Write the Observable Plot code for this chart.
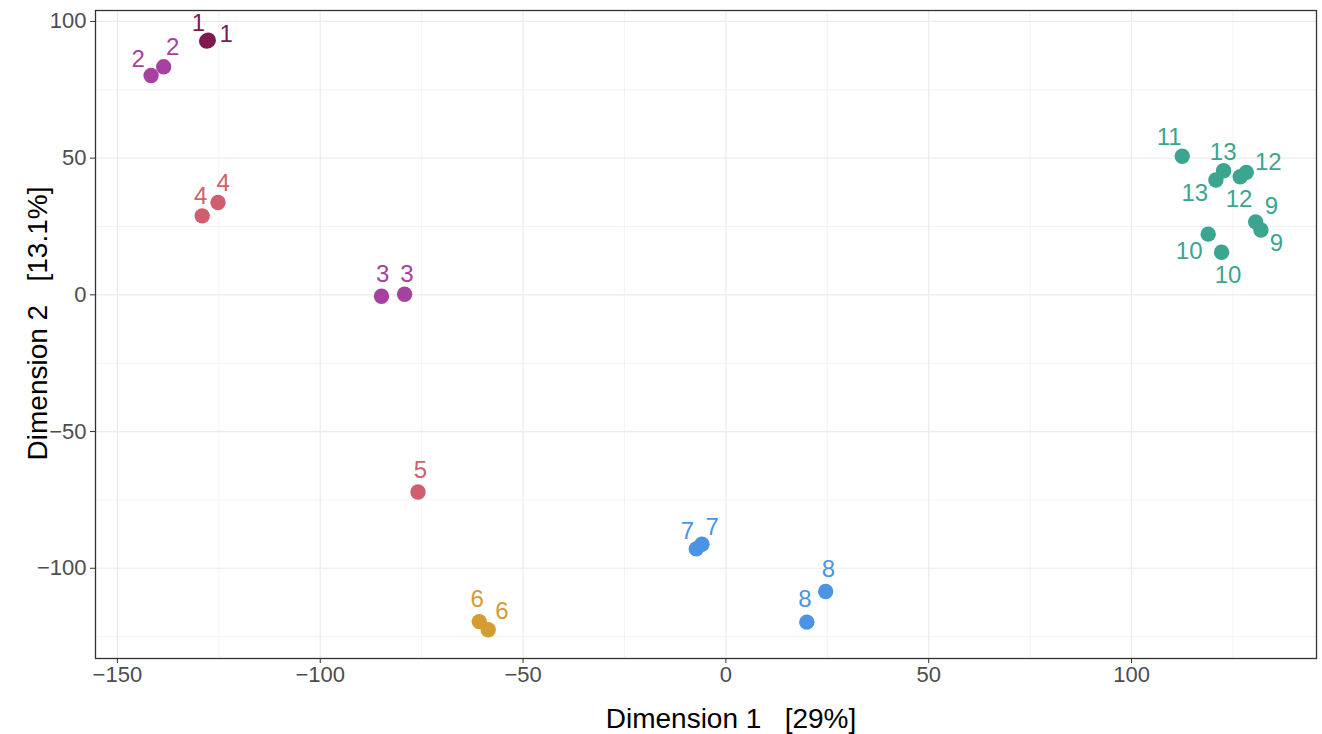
<!DOCTYPE html>
<html>
<head>
<meta charset="utf-8">
<script src="https://cdn.jsdelivr.net/npm/d3@7"></script>
<script src="https://cdn.jsdelivr.net/npm/@observablehq/plot@0.6"></script>
<style>
  html, body { margin: 0; padding: 0; background: #fff; }
  #chart svg { display: block; }
</style>
</head>
<body>
<div id="chart"></div>
<script>
// Sample group of each point
const groups = ["1","1","2","2","3","3","4","4","5","6","6","7","7","8","8","9","9","10","10","11","12","12","13","13"];
// Dimension 1 and Dimension 2 coordinates
const dim1 = [-128.0,-127.6,-141.7,-138.6,-84.9,-79.2,-129.1,-125.2,-75.9,-60.8,-58.6,-7.3,-5.9,19.95,24.6,130.6,131.9,118.9,122.2,112.5,128.3,126.8,122.7,120.8];
const dim2 = [92.8,93.1,80.2,83.4,-0.5,0.2,28.9,33.8,-72.1,-119.5,-122.5,-92.9,-91.2,-119.7,-108.5,26.7,23.7,22.2,15.6,50.7,44.8,43.2,45.4,42.0];
// Repelled label positions (data units)
const labelX = [-130.0,-123.2,-144.9,-136.4,-84.6,-78.6,-129.5,-123.9,-75.3,-61.3,-55.2,-9.5,-3.4,19.5,25.3,134.5,135.7,114.2,123.8,109.3,133.7,126.5,122.6,115.6];
const labelY = [99.3,95.2,86.1,90.5,7.6,7.6,35.9,40.8,-64.0,-111.5,-115.8,-86.6,-85.1,-111.3,-100.2,32.5,18.8,15.8,7.2,57.8,48.6,34.9,52.1,37.3];

// Colour of each group
const groupNames  = ["1","2","3","4","5","6","7","8","9","10","11","12","13"];
const groupColors = ["#7e1a4f","#a6419f","#a6419f","#cf5f6e","#cf5f6e","#d49d33","#4b93e5","#4b93e5","#3ba58f","#3ba58f","#3ba58f","#3ba58f","#3ba58f"];

// Axis ticks
const xTicks = [-150,-100,-50,0,50,100];
const yTicks = [-100,-50,0,50,100];
const xMinor = [-125,-75,-25,25,75,125];
const yMinor = [-125,-75,-25,25,75];

const xTitle = "Dimension 1\u00a0\u00a0\u00a0[29%]";
const yTitle = "Dimension 2\u00a0\u00a0\u00a0[13.1%]";

const pts = groups.map((g, i) => ({g, x: dim1[i], y: dim2[i], lx: labelX[i], ly: labelY[i]}));

const font = "Liberation Sans, Arial, Helvetica, sans-serif";
const fmt = d => d < 0 ? "\u2212" + Math.abs(d) : String(d);

const chart = Plot.plot({
  width: 1322,
  height: 734,
  marginLeft: 95,
  marginRight: 6,
  marginTop: 10,
  marginBottom: 76,
  style: {fontFamily: font, background: "#fff"},
  x: {domain: [-155.4, 145.6], label: null},
  y: {domain: [-133, 104], label: null},
  color: {domain: groupNames, range: groupColors},
  marks: [
    Plot.gridX(xMinor, {stroke: "#ebebeb", strokeOpacity: 1, strokeWidth: 0.6}),
    Plot.gridY(yMinor, {stroke: "#ebebeb", strokeOpacity: 1, strokeWidth: 0.6}),
    Plot.gridX(xTicks, {stroke: "#ebebeb", strokeOpacity: 1, strokeWidth: 1.2}),
    Plot.gridY(yTicks, {stroke: "#ebebeb", strokeOpacity: 1, strokeWidth: 1.2}),
    Plot.axisX({ticks: xTicks, tickSize: 5, tickPadding: 3, fontSize: 22, color: "#4d4d4d", stroke: "#333", label: null, tickFormat: fmt}),
    Plot.axisY({ticks: yTicks, tickSize: 5, tickPadding: 4, fontSize: 22, color: "#4d4d4d", stroke: "#333", label: null, tickFormat: fmt}),
    Plot.dot(pts, {x: "x", y: "y", r: 7.7, fill: "g", stroke: null}),
    Plot.text(pts, {x: "lx", y: "ly", text: "g", fill: "g", fontSize: 24, textAnchor: "middle", lineAnchor: "middle"}),
    Plot.frame({stroke: "#333", strokeWidth: 1.3}),
    Plot.text([xTitle], {frameAnchor: "bottom", text: d => d, dx: 25, dy: 61, fontSize: 28, fill: "#000", textAnchor: "middle", lineAnchor: "middle"}),
    Plot.text([yTitle], {frameAnchor: "left", text: d => d, dx: -57, dy: -11, rotate: -90, fontSize: 28, fill: "#000", textAnchor: "middle", lineAnchor: "middle"})
  ]
});
document.getElementById("chart").appendChild(chart);
</script>
</body>
</html>
